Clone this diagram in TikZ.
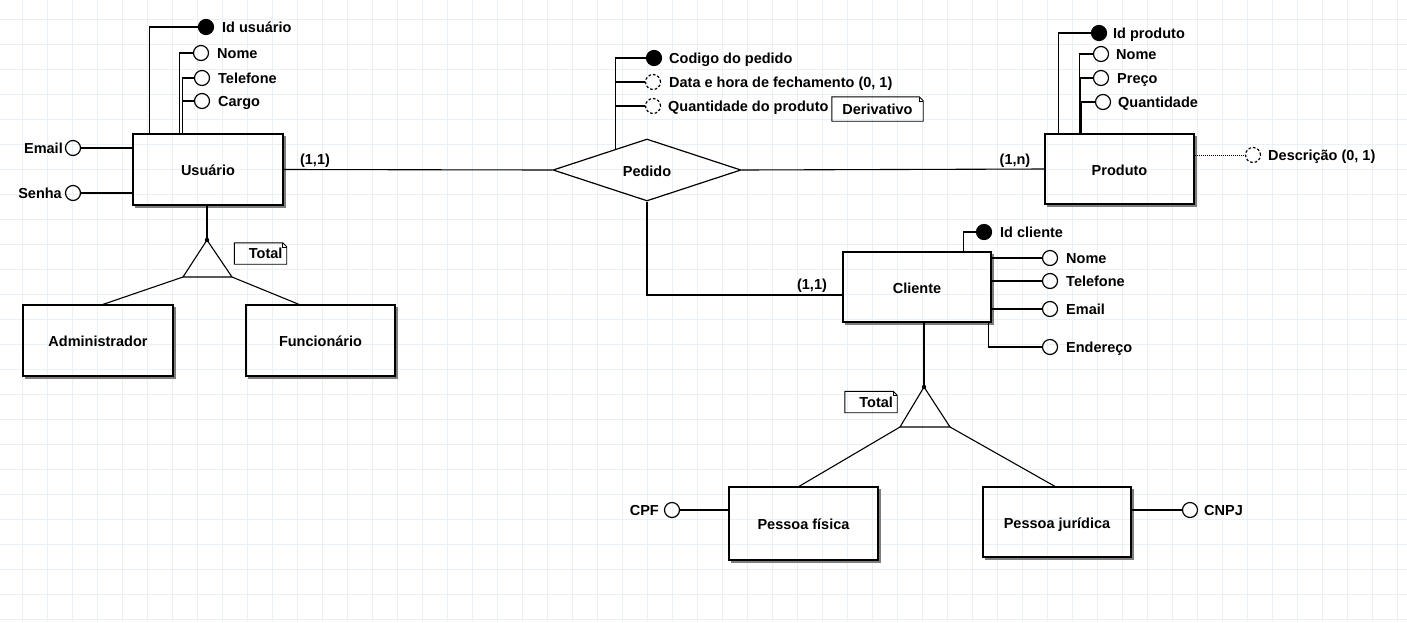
\documentclass[tikz,border=0pt]{standalone}
\usepackage{fontspec}
\setmainfont{Liberation Sans}
\usetikzlibrary{shapes.geometric,calc}
\definecolor{gridc}{RGB}{233,241,247}
\definecolor{shadowc}{RGB}{125,125,125}
\newcommand\notefold[1]{%
  \draw[line width=0.9pt] (#1.south west) -- (#1.north west) -- ([xshift=-4pt]#1.north east) -- ([yshift=-4pt]#1.north east) -- (#1.south east) -- cycle;
  \draw[line width=0.6pt] ([xshift=-4pt]#1.north east) -- ([xshift=-4pt,yshift=-4pt]#1.north east) -- ([yshift=-4pt]#1.north east);}
\newcommand\entshadow[1]{%
  \draw[shad] ([xshift=1.6pt,yshift=-3pt]#1.north east) -- ([xshift=1.6pt,yshift=-1.6pt]#1.south east) -- ([xshift=3pt,yshift=-1.6pt]#1.south west);}
\begin{document}
\begin{tikzpicture}[x=1pt,y=-1pt,
  every node/.style={font=\bfseries\fontsize{14.5}{17}\selectfont},
  ent/.style={draw, line width=1.2pt, inner sep=0pt, text height=12pt, text depth=0pt},
  attr/.style={draw, circle, minimum size=15pt, inner sep=0pt, line width=1.2pt},
  keyattr/.style={attr, fill=black},
  optattr/.style={attr, dash pattern=on 2.6pt off 2pt},
  lbl/.style={inner sep=0pt, text height=10.4pt, text depth=0pt},
  conn/.style={line width=1.1pt},
  shad/.style={line width=2pt, shadowc},
  noteshape/.style={inner sep=0pt, text height=10.4pt, text depth=0pt},
  totalnote/.style={noteshape, inner xsep=4pt, text width=44pt, align=right, minimum height=21pt},
]
\useasboundingbox (0,0) rectangle (1407,622);
\fill[white] (0,0) rectangle (1407,622);
\foreach \x in {22,47,...,1407} \draw[gridc, line width=0.8pt] (\x,0) -- (\x,622);
\foreach \y in {19,44,...,622} \draw[gridc, line width=0.8pt] (0,\y) -- (1407,\y);

% entities
\node[ent, minimum width=150pt, minimum height=71pt] (usuario) at (208,169.5) {Usuário};
\node[ent, minimum width=149pt, minimum height=70pt] (produto) at (1119.5,169) {Produto};
\node[ent, minimum width=148pt, minimum height=70pt] (cliente) at (917,287) {Cliente};
\node[ent, minimum width=150pt, minimum height=71pt] (admin) at (98,340.5) {Administrador};
\node[ent, minimum width=149pt, minimum height=71pt] (func) at (320.5,340.5) {Funcionário};
\node[ent, minimum width=149pt, minimum height=73pt] (pf) at (803.5,523.5) {Pessoa física};
\node[ent, minimum width=148pt, minimum height=70pt] (pj) at (1057,522) {Pessoa jurídica};
\foreach \n in {usuario,produto,cliente,admin,func,pf,pj} {\entshadow{\n}}

% relationship
\node[draw, diamond, aspect=3, line width=1.2pt, minimum width=188pt, minimum height=62pt, inner sep=0pt, text height=12pt, text depth=0pt] (pedido) at (647,170) {Pedido};

% Usuario attributes
\node[keyattr] (idu) at (206,27) {};
\node[lbl, anchor=west] (idul) at (222,27) {Id usuário};
\node[attr] (nomeu) at (201,53) {};
\node[lbl, anchor=west] (nomeul) at (217,53) {Nome};
\node[attr] (telu) at (202,78) {};
\node[lbl, anchor=west] (telul) at (218,78) {Telefone};
\node[attr] (cargou) at (202,101) {};
\node[lbl, anchor=west] (cargoul) at (218,101) {Cargo};
\node[attr] (emailu) at (73,148) {};
\node[lbl, anchor=east] (emailul) at (63,148) {Email};
\node[attr] (senhau) at (73,193) {};
\node[lbl, anchor=east] (senhaul) at (62,193) {Senha};
\draw[conn] ([xshift=17pt]usuario.north west) |- (idu.west);
\draw[conn] ([xshift=47.5pt]usuario.north west) |- (nomeu.west);
\draw[conn] ([xshift=50pt]usuario.north west) |- (telu.west);
\draw[conn] ([xshift=50pt]usuario.north west) |- (cargou.west);
\draw[conn] (emailu.east) -- (emailu.east -| usuario.west);
\draw[conn] (senhau.east) -- (senhau.east -| usuario.west);

% Pedido attributes
\node[keyattr] (codp) at (654,58) {};
\node[lbl, anchor=west] (codpl) at (669,58) {Codigo do pedido};
\node[optattr] (datap) at (653,82) {};
\node[lbl, anchor=west] (datapl) at (669,82) {Data e hora de fechamento (0, 1)};
\node[optattr] (qtdp) at (653,106) {};
\node[lbl, anchor=west] (qtdpl) at (668,106) {Quantidade do produto};
\node[noteshape, minimum width=91pt, minimum height=24pt] (deriv) at (877.5,109) {Derivativo};
\notefold{deriv}
\coordinate (pv) at ($(pedido.north west)!0.34!(pedido.north)$);
\draw[conn] (pv) |- (codp.west);
\draw[conn] (pv |- datap.west) -- (datap.west);
\draw[conn] (pv |- qtdp.west) -- (qtdp.west);

% Produto attributes
\node[keyattr] (idp) at (1099,33) {};
\node[lbl, anchor=west] (idpl) at (1113,33) {Id produto};
\node[attr] (nomep) at (1101,54) {};
\node[lbl, anchor=west] (nomepl) at (1116,54) {Nome};
\node[attr] (precop) at (1101,78) {};
\node[lbl, anchor=west] (precopl) at (1117,78) {Preço};
\node[attr] (qtdpr) at (1103,102) {};
\node[lbl, anchor=west] (qtdprl) at (1118,102) {Quantidade};
\node[optattr] (descp) at (1253,155) {};
\node[lbl, anchor=west] (descpl) at (1268,155) {Descrição (0, 1)};
\draw[conn] ([xshift=14pt]produto.north west) |- (idp.west);
\draw[conn] ([xshift=35pt]produto.north west) |- (nomep.west);
\draw[conn] ([xshift=36.5pt]produto.north west) |- (precop.west);
\draw[conn] ([xshift=37.5pt]produto.north west) |- (qtdpr.west);
\draw[line width=0.9pt, dash pattern=on 1pt off 1pt] (descp.west -| produto.east) -- (descp.west);

% relationship connectors
\draw[conn] (usuario.east) -- (pedido.west);
\draw[conn] (pedido.east) -- (produto.west);
\draw[conn] (pedido.south) |- ([yshift=-8pt]cliente.west);
\node[lbl] (c1) at (315,159) {(1,1)};
\node[lbl] (c2) at (1015,159) {(1,n)};
\node[lbl] (c3) at (812,284) {(1,1)};

% Cliente attributes
\node[keyattr] (idc) at (984,232) {};
\node[lbl, anchor=west] (idcl) at (1000,232) {Id cliente};
\node[attr] (nomec) at (1050,258) {};
\node[lbl, anchor=west] (nomecl) at (1066,258) {Nome};
\node[attr] (telc) at (1050,281) {};
\node[lbl, anchor=west] (telcl) at (1066,281) {Telefone};
\node[attr] (emailc) at (1050,309) {};
\node[lbl, anchor=west] (emailcl) at (1066,309) {Email};
\node[attr] (endc) at (1050,347) {};
\node[lbl, anchor=west] (endcl) at (1066,347) {Endereço};
\draw[conn] ([xshift=-28pt]cliente.north east) |- (idc.west);
\draw[conn] (nomec.west -| cliente.east) -- (nomec.west);
\draw[conn] (telc.west -| cliente.east) -- (telc.west);
\draw[conn] (emailc.west -| cliente.east) -- (emailc.west);
\draw[conn] ([xshift=-3pt]cliente.south east) |- (endc.west);

% Usuario specialization
\coordinate (ta) at (207,240);
\coordinate (tl) at (183,277);
\coordinate (tr) at (232,277);
\draw[conn] (ta) -- (tl) -- (tr) -- cycle;
\fill (ta) circle[radius=2.2pt];
\draw[conn] (ta |- usuario.south) -- (ta);
\draw[conn] (tl) -- ([xshift=5pt]admin.north);
\draw[conn] (tr) -- ([xshift=-21.5pt]func.north);
\node[totalnote] (tot1) at (260.5,253.5) {Total};
\notefold{tot1}

% Cliente specialization
\coordinate (ba) at (924,387);
\coordinate (bl) at (900,427);
\coordinate (br) at (950,427);
\draw[conn] (ba) -- (bl) -- (br) -- cycle;
\fill (ba) circle[radius=2.2pt];
\draw[conn] (ba |- cliente.south) -- (ba);
\draw[conn] (bl) -- ([xshift=-4.5pt]pf.north);
\draw[conn] (br) -- ([xshift=-2pt]pj.north);
\node[totalnote] (tot2) at (871,402) {Total};
\notefold{tot2}

% Pessoa attributes
\node[attr] (cpf) at (672,510) {};
\node[lbl, anchor=east] (cpfl) at (659,510) {CPF};
\draw[conn] (cpf.east) -- (cpf.east -| pf.west);
\node[attr] (cnpj) at (1190,510) {};
\node[lbl, anchor=west] (cnpjl) at (1204,510) {CNPJ};
\draw[conn] (cnpj.west -| pj.east) -- (cnpj.west);
\end{tikzpicture}
\end{document}
